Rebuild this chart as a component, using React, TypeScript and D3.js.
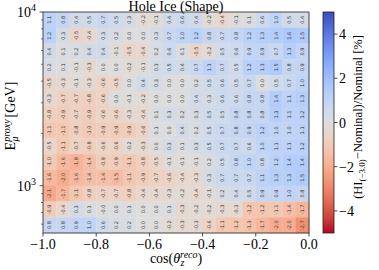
import React from 'react';
import * as d3 from 'd3';

// reconstructed cos(zenith) bin edges
const cosEdges = [-1.0, -0.95, -0.9, -0.85, -0.8, -0.75, -0.7, -0.65, -0.6, -0.55, -0.5,
  -0.45, -0.4, -0.35, -0.3, -0.25, -0.2, -0.15, -0.1, -0.05, 0.0];

// energy proxy bin edges in GeV, top (high) to bottom (low)
const energyEdges = [10000, 8111, 6579, 5337, 4329, 3511, 2848, 2310, 1874, 1520, 1233, 1000, 811, 658, 534];

// relative change in %, one row per energy bin, highest energy first
const shiftPercent = [
  [1.1, 0.8, 0.4, 0.5, 0.7, 0.5, 0.3, -0.2, -0.1, 0.4, 0.6, 0.4, -0.2, -0.4, -0.1, 0.1, 0.6, 1.0, 0.5, 0.4],
  [1.2, 0.3, -0.5, -0.4, 0.3, 0.2, 0.0, 0.0, 0.3, 0.7, 1.0, 1.2, 0.8, 0.7, 0.8, 1.2, 1.3, 1.4, 1.6, 1.5],
  [0.4, 0.1, 0.2, 0.4, 0.4, -0.1, -0.5, -0.4, 0.2, 0.6, 0.1, -0.5, -0.2, 0.5, 0.6, 0.9, 0.9, 0.7, 1.3, 0.9],
  [0.2, 0.1, -0.1, -0.3, 0.0, 0.0, -0.2, -0.1, 0.3, 0.5, 0.4, 0.7, 1.1, 0.7, 0.5, 1.2, 1.3, 1.5, 0.8, 0.9],
  [-0.5, -0.3, -0.1, -0.3, -0.6, -0.5, 0.0, 0.4, 0.3, 0.0, 0.0, 0.2, 0.5, 0.6, 0.5, 0.7, 0.0, 0.5, 0.7, 1.0],
  [-0.3, -0.7, -0.7, -0.8, -0.6, 0.0, -0.1, -0.2, 0.0, 0.0, 0.0, 0.4, 0.3, 0.6, 0.6, 0.8, 0.8, 1.4, 1.1, 1.3],
  [-0.8, -0.9, -0.7, -0.9, -0.6, -0.6, -0.3, -0.4, 0.1, 0.3, 0.2, 0.3, 0.5, 0.5, 0.8, 0.8, 0.8, 1.3, 1.1, 1.2],
  [-1.1, -1.1, -0.8, -1.0, -0.9, -0.9, -0.9, -0.6, 0.1, 0.0, 0.4, 0.2, 0.5, 0.7, 0.8, 0.9, 1.2, 1.0, 1.0, 1.1],
  [-0.5, -1.1, -0.7, -0.8, -0.6, -0.6, -0.2, -0.3, 0.0, 0.3, 0.1, 0.3, 0.5, 0.7, 0.7, 0.6, 1.0, 1.1, 1.1, 1.2],
  [-1.0, -1.6, -1.8, -1.4, -0.9, -0.9, -1.1, -0.8, -0.5, -0.1, -0.1, -0.1, 0.2, 0.5, 0.8, 1.0, 0.8, 1.2, 1.4, 1.4],
  [-1.6, -2.0, -1.6, -1.4, -1.4, -1.5, -1.1, -0.9, -0.7, -0.6, -0.4, -0.3, 0.3, 0.7, 0.7, 0.7, 1.1, 1.3, 1.3, 1.5],
  [-2.1, -1.7, -1.1, -0.8, -0.7, -0.7, -0.8, -0.4, -0.4, -0.3, -0.2, -0.4, -0.1, 0.2, 0.4, 0.5, 0.9, 0.9, 1.0, 0.8],
  [-0.9, -0.4, 0.3, 0.1, -0.04, 0.0, 0.1, 0.0, 0.0, 0.1, -0.3, -0.2, -0.2, -0.3, -0.3, -1.2, -1.2, -1.1, -1.4, -1.7],
  [0.8, 0.8, 0.9, 1.0, 0.6, 0.2, 0.2, 0.0, 0.0, -0.2, -0.3, -0.3, -0.6, -1.1, -1.2, -1.3, -1.7, -2.0, -2.0, -2.7],
];

const xTicks = [-1.0, -0.8, -0.6, -0.4, -0.2, 0.0];
const yMajorTicks = [1000, 10000];
const yMinorTicks = [600, 700, 800, 900, 2000, 3000, 4000, 5000, 6000, 7000, 8000, 9000];
const cbarTicks = [-4, -2, 0, 2, 4];

// matplotlib coolwarm, sampled every 1/16
const coolwarm = ['#3b4cc0', '#4d68d7', '#6282ea', '#779af7', '#8db0fe', '#a3c2ff', '#b8d0f9', '#ccd9ee',
  '#dddddd', '#ecd3c5', '#f5c4ad', '#f7b194', '#f49a7b', '#ec7f63', '#de604d', '#cb3e38', '#b40426'];

const W = 379;
const H = 270;
const plot = { left: 43, right: 309, top: 12, bottom: 233 };
const cbar = { left: 323, right: 334 };
const serif = "'Liberation Serif', 'Times New Roman', serif";

const minus = (s: string) => s.replace('-', '\u2212');

export default function App() {
  const x = d3.scaleLinear().domain([-1, 0]).range([plot.left, plot.right]);
  const y = d3.scaleLog().domain([534, 10000]).range([plot.bottom, plot.top]);
  // reversed coolwarm: positive = blue
  const cDomain = coolwarm.map((_, i) => 5 - (i * 10) / (coolwarm.length - 1));
  const color = d3.scaleLinear<string>().domain(cDomain).range(coolwarm).clamp(true);
  const cy = d3.scaleLinear().domain([-5, 5]).range([plot.bottom, plot.top]);

  const cells: React.ReactElement[] = [];
  shiftPercent.forEach((row, r) => {
    row.forEach((v, c) => {
      const x0 = x(cosEdges[c]);
      const x1 = x(cosEdges[c + 1]);
      const y0 = y(energyEdges[r]);
      const y1 = y(energyEdges[r + 1]);
      const mx = (x0 + x1) / 2;
      const my = (y0 + y1) / 2;
      cells.push(
        <g key={`${r}-${c}`}>
          <rect x={x0} y={y0} width={x1 - x0 + 0.3} height={y1 - y0 + 0.3} fill={color(v)} />
          <text
            transform={`translate(${mx + 1.8},${my}) rotate(-90)`}
            textAnchor="middle"
            fontSize={5}
            fontFamily="'DejaVu Sans', sans-serif"
            fill="#333"
          >
            {v.toFixed(1)}
          </text>
        </g>
      );
    });
  });

  return (
    <svg width={W} height={H} style={{ position: 'absolute', left: 0, top: 0, background: '#fff' }}>
      <defs>
        <linearGradient id="cw" x1="0" y1="0" x2="0" y2="1">
          {coolwarm.map((col, i) => (
            <stop key={i} offset={i / (coolwarm.length - 1)} stopColor={col} />
          ))}
        </linearGradient>
      </defs>

      {cells}
      <rect x={plot.left} y={plot.top} width={plot.right - plot.left} height={plot.bottom - plot.top}
        fill="none" stroke="#222" strokeWidth={0.8} />

      {/* x axis */}
      {xTicks.map((t) => (
        <g key={t}>
          <line x1={x(t)} x2={x(t)} y1={plot.bottom} y2={plot.bottom + 3.5} stroke="#222" strokeWidth={0.8} />
          <text x={x(t)} y={plot.bottom + 16} textAnchor="middle" fontSize={14} fontFamily={serif}>
            {minus(t.toFixed(1))}
          </text>
        </g>
      ))}
      <text x={(plot.left + plot.right) / 2} y={263} textAnchor="middle" fontSize={14} fontFamily={serif}>
        cos(<tspan fontStyle="italic">θ</tspan>
        <tspan dy={-5} fontSize={10} fontStyle="italic">reco</tspan>
        <tspan dx={-17} dy={8} fontSize={10} fontStyle="italic">z</tspan>
        <tspan dx={13} dy={-3}>)</tspan>
      </text>

      {/* y axis */}
      {yMajorTicks.map((t) => (
        <g key={t}>
          <line x1={plot.left - 3.5} x2={plot.left} y1={y(t)} y2={y(t)} stroke="#222" strokeWidth={0.8} />
          <text x={plot.left - 12} y={y(t) + 5} textAnchor="end" fontSize={14} fontFamily={serif}>10</text>
          <text x={plot.left - 12} y={y(t) - 1} textAnchor="start" fontSize={10} fontFamily={serif}>
            {Math.round(Math.log10(t))}
          </text>
        </g>
      ))}
      {yMinorTicks.map((t) => (
        <line key={t} x1={plot.left - 2} x2={plot.left} y1={y(t)} y2={y(t)} stroke="#222" strokeWidth={0.6} />
      ))}
      <g transform={`translate(15,116) rotate(-90)`}>
        <text textAnchor="middle" fontSize={14} fontFamily={serif}>
          E<tspan dy={-5} fontSize={10} fontStyle="italic">proxy</tspan>
          <tspan dx={-22} dy={8} fontSize={10} fontStyle="italic">μ</tspan>
          <tspan dx={19} dy={-3}>[GeV]</tspan>
        </text>
      </g>

      <text x={(plot.left + plot.right) / 2} y={11} textAnchor="middle" fontSize={14} fontFamily={serif}>
        Hole Ice (Shape)
      </text>

      {/* colorbar */}
      <rect x={cbar.left} y={plot.top} width={cbar.right - cbar.left} height={plot.bottom - plot.top} fill="url(#cw)" />
      <rect x={cbar.left} y={plot.top} width={cbar.right - cbar.left} height={plot.bottom - plot.top}
        fill="none" stroke="#222" strokeWidth={0.8} />
      {cbarTicks.map((t) => (
        <g key={t}>
          <line x1={cbar.right} x2={cbar.right + 3.5} y1={cy(t)} y2={cy(t)} stroke="#222" strokeWidth={0.8} />
          <text x={cbar.right + 5} y={cy(t) + 5} fontSize={14} fontFamily={serif}>{minus(String(t))}</text>
        </g>
      ))}
      <g transform={`translate(362,117) rotate(-90)`}>
        <text textAnchor="middle" fontSize={12.5} fontFamily={serif}>
          (HI<tspan dy={3} fontSize={9}>(−3.0)</tspan>
          <tspan dy={-3}>−Nominal)/Nominal [%]</tspan>
        </text>
      </g>
    </svg>
  );
}
